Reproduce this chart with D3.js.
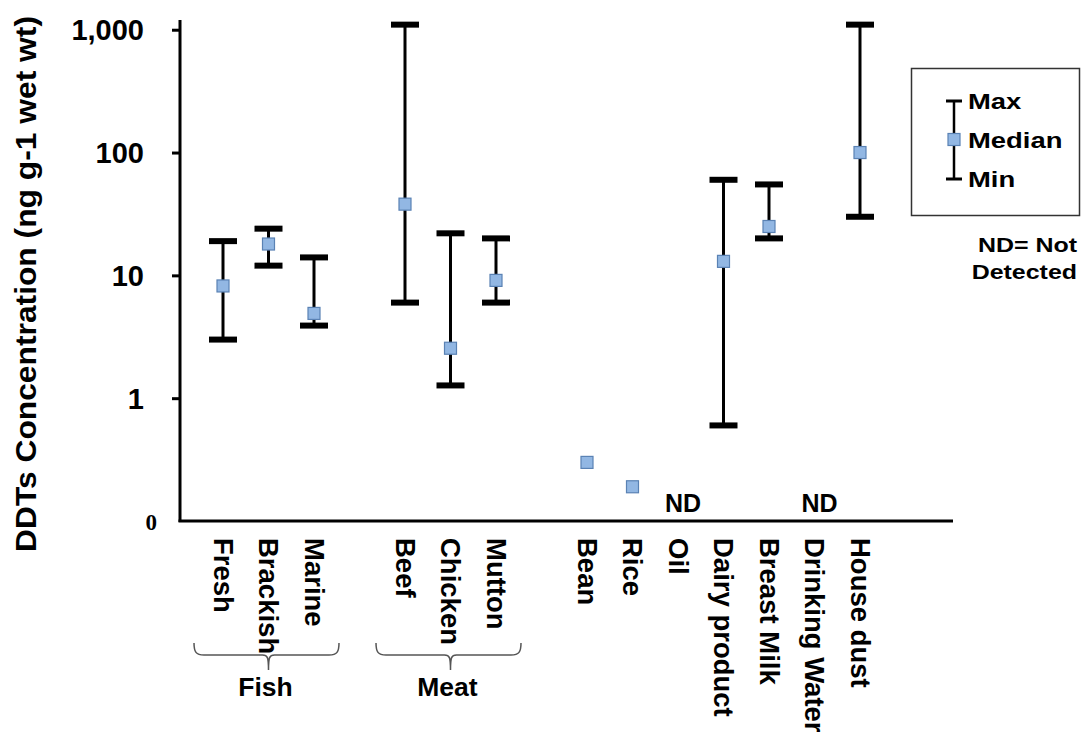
<!DOCTYPE html>
<html>
<head>
<meta charset="utf-8">
<script src="https://cdn.jsdelivr.net/npm/d3@7"></script>
<style>
  html, body { margin: 0; padding: 0; background: #fff; }
  svg { display: block; }
  text { font-family: "Liberation Sans", Arial, sans-serif; font-weight: bold; fill: #000; }
</style>
</head>
<body>
<svg id="chart" width="1085" height="738"></svg>
<script>
// Sample types, in plotting order; blank entries are spacer slots between groups
const slots = ["Fresh", "Brackish", "Marine", "", "Beef", "Chicken", "Mutton", " ",
  "Bean", "Rice", "Oil", "Dairy product", "Breast Milk", "Drinking Water", "House dust"];
const categories = ["Fresh", "Brackish", "Marine", "Beef", "Chicken", "Mutton",
  "Bean", "Rice", "Oil", "Dairy product", "Breast Milk", "Drinking Water", "House dust"];
// DDTs concentrations (ng g-1 wet wt); null = no value / not detected
const maxValues    = [19, 24, 14, 1100, 22, 20, null, null, null, 60, 55, null, 1100];
const medianValues = [8.2, 18, 4.9, 38, 2.55, 9.1, 0.3, 0.19, null, 13, 25, null, 100];
const minValues    = [3, 12, 3.9, 6, 1.27, 6, null, null, null, 0.6, 20, null, 30];
const notDetected  = ["Oil", "Drinking Water"];
const groups = [
  { name: "Fish", members: ["Fresh", "Brackish", "Marine"] },
  { name: "Meat", members: ["Beef", "Chicken", "Mutton"] }
];
const yTicks = [0.1, 1, 10, 100, 1000];
const legendItems = ["Max", "Median", "Min"];

const svg = d3.select("#chart");

const y = d3.scaleLog().domain([0.1, 1200]).range([521, 20]);
const x = d3.scalePoint().domain(slots).range([223, 860]);
const xLeft = 180, xRight = 953;

const rows = categories.map((c, i) => ({
  name: c, max: maxValues[i], median: medianValues[i], min: minValues[i]
}));

// Y axis
const yAxis = d3.axisLeft(y)
  .tickValues(yTicks)
  .tickFormat(d => d < 1 ? "0" : d3.format(",")(d))
  .tickSize(8)
  .tickPadding(28);
const gy = svg.append("g").attr("transform", `translate(${xLeft},0)`).call(yAxis);
gy.select(".domain").remove();
gy.selectAll(".tick line").attr("stroke", "#000").attr("stroke-width", 3);
gy.selectAll(".tick text").attr("font-size", 29).attr("dy", "0.34em")
  .style("font-family", '"Liberation Sans", Arial, sans-serif');
gy.selectAll(".tick").filter(d => d < 1).each(function () {
  const t = d3.select(this);
  t.select("line").remove();
  t.select("text").attr("x", -23).attr("font-size", 23).attr("dy", "0.38em")
    .style("font-family", '"Liberation Serif", "Times New Roman", serif');
});

// Axis frame lines
svg.append("line").attr("x1", xLeft).attr("x2", xLeft).attr("y1", 20).attr("y2", 522)
  .attr("stroke", "#000").attr("stroke-width", 3);
svg.append("line").attr("x1", xLeft - 1.5).attr("x2", xRight).attr("y1", 521).attr("y2", 521)
  .attr("stroke", "#000").attr("stroke-width", 3);

// Y axis title
svg.append("text")
  .attr("transform", `translate(26,284) rotate(-90)`)
  .attr("text-anchor", "middle").attr("dominant-baseline", "central")
  .attr("font-size", 29)
  .attr("textLength", 536).attr("lengthAdjust", "spacingAndGlyphs")
  .text("DDTs Concentration (ng g-1 wet wt)");

// Error bars: min-max range with caps
const capW = 28;
const ranged = rows.filter(r => r.max != null && r.min != null);
svg.append("g").selectAll("line.stem").data(ranged).join("line")
  .attr("x1", d => x(d.name)).attr("x2", d => x(d.name))
  .attr("y1", d => y(d.max)).attr("y2", d => y(d.min))
  .attr("stroke", "#000").attr("stroke-width", 3);
["max", "min"].forEach(k => {
  svg.append("g").selectAll("line").data(ranged).join("line")
    .attr("x1", d => x(d.name) - capW / 2).attr("x2", d => x(d.name) + capW / 2)
    .attr("y1", d => y(d[k])).attr("y2", d => y(d[k]))
    .attr("stroke", "#000").attr("stroke-width", 6);
});

// Median markers
const sq = 12;
svg.append("g").selectAll("rect").data(rows.filter(r => r.median != null)).join("rect")
  .attr("x", d => x(d.name) - sq / 2).attr("y", d => y(d.median) - sq / 2)
  .attr("width", sq).attr("height", sq)
  .attr("fill", "#92b7e3").attr("stroke", "#5a82b4").attr("stroke-width", 1.2);

// Not detected markers
svg.append("g").selectAll("text").data(notDetected).join("text")
  .attr("x", d => x(d) + 5).attr("y", 512)
  .attr("text-anchor", "middle").attr("font-size", 25)
  .text("ND");

// Category labels (rotated, reading downward)
svg.append("g").selectAll("text").data(categories).join("text")
  .attr("transform", d => `translate(${x(d)},538) rotate(90)`)
  .attr("text-anchor", "start").attr("dominant-baseline", "central")
  .attr("font-size", 27.5)
  .text(d => d);

// Group braces
groups.forEach(g => {
  const x0 = x(g.members[0]) - 29, x1 = x(g.members[g.members.length - 1]) + 25;
  const xc = x(g.members[1]);
  const yt = 643, yl = 655, yb = 670;
  const p = d3.path();
  p.moveTo(x0, yt);
  p.bezierCurveTo(x0, yl - 3, x0 + 2, yl, x0 + 10, yl);
  p.lineTo(xc - 6, yl);
  p.bezierCurveTo(xc - 1, yl, xc, yl + 2, xc, yb);
  p.moveTo(xc, yb);
  p.bezierCurveTo(xc, yl + 2, xc + 1, yl, xc + 6, yl);
  p.lineTo(x1 - 10, yl);
  p.bezierCurveTo(x1 - 2, yl, x1, yl - 3, x1, yt);
  svg.append("path").attr("d", p.toString())
    .attr("fill", "none").attr("stroke", "#555").attr("stroke-width", 1.5);
  svg.append("text").attr("x", xc - 3).attr("y", 696)
    .attr("text-anchor", "middle").attr("font-size", 26.5)
    .text(g.name);
});

// Legend
const lg = svg.append("g");
lg.append("rect").attr("x", 911.5).attr("y", 68.5).attr("width", 168).attr("height", 147)
  .attr("fill", "#fff").attr("stroke", "#333").attr("stroke-width", 1.5);
const lx = 954, lyTop = 101, lyMid = 139.5, lyBot = 179;
lg.append("line").attr("x1", lx).attr("x2", lx).attr("y1", lyTop).attr("y2", lyBot)
  .attr("stroke", "#000").attr("stroke-width", 2.5);
[lyTop, lyBot].forEach(v => lg.append("line")
  .attr("x1", lx - 8).attr("x2", lx + 8).attr("y1", v).attr("y2", v)
  .attr("stroke", "#000").attr("stroke-width", 3));
lg.append("rect").attr("x", lx - 6).attr("y", lyMid - 6).attr("width", 12).attr("height", 12)
  .attr("fill", "#92b7e3").attr("stroke", "#5a82b4").attr("stroke-width", 1.2);
lg.selectAll("text.item").data(legendItems).join("text")
  .attr("transform", (d, i) => `translate(968,${[lyTop, lyMid, lyBot][i]}) scale(1.22,1)`)
  .attr("dominant-baseline", "central").attr("font-size", 22.5)
  .text(d => d);

// Footnote
["ND= Not", "Detected"].forEach((s, i) => {
  svg.append("text")
    .attr("transform", `translate(1077,${252 + i * 27}) scale(1.28,1)`)
    .attr("text-anchor", "end").attr("font-size", 19.5).text(s);
});
</script>
</body>
</html>
